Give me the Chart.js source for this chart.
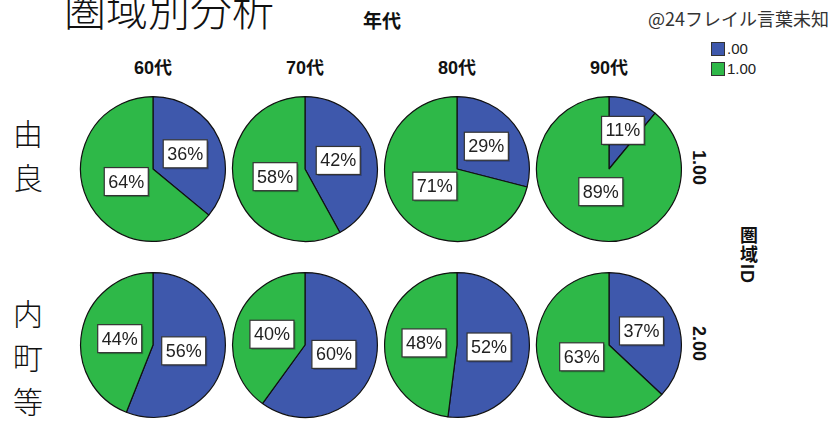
<!DOCTYPE html>
<html>
<head>
<meta charset="utf-8">
<script src="https://cdn.jsdelivr.net/npm/chart.js@4/dist/chart.umd.min.js"></script>
<style>
  body { margin:0; width:831px; height:421px; background:#fff; overflow:hidden; position:relative;
         font-family:"Liberation Sans","Noto Sans CJK JP",sans-serif; color:#111; }
  .t { position:absolute; white-space:nowrap; }
  .pie { position:absolute; width:148px; height:148px; }
  .vert { writing-mode:vertical-rl; }
</style>
</head>
<body>
<div class="t" style="left:64px;top:-13px;font:300 42px 'Noto Sans CJK JP';line-height:1;">圏域別分析</div>
<div class="t" style="left:363px;top:10px;font:bold 19px 'Noto Sans CJK JP';line-height:1;">年代</div>
<div class="t" style="right:2px;top:9px;font:18px 'Noto Sans CJK JP';line-height:1;color:#333;">@24フレイル言葉未知</div>

<div id="legend"></div>
<div id="colHeads"></div>
<div id="rowHeads"></div>
<div id="sideHeads"></div>
<div class="t vert" style="left:734px;top:226px;font:bold 18px 'Liberation Sans','Noto Sans CJK JP';letter-spacing:1px;">圏域ID</div>
<div id="pies"></div>

<script>
// categories
var years = ["60代", "70代", "80代", "90代"];
var regionIds = ["1.00", "2.00"];
var regionNames = ["由良", "内町等"];
var legendLabels = [".00", "1.00"];
var colors = ["#3E58AC", "#2EB848"];

// percentages of ".00" and "1.00" per region (row) and age group (column)
var pctZero_1 = [36, 42, 29, 11];
var pctOne_1  = [64, 58, 71, 89];
var pctZero_2 = [56, 60, 52, 37];
var pctOne_2  = [44, 40, 48, 63];

var rows = [[pctZero_1, pctOne_1], [pctZero_2, pctOne_2]];

// layout
var colCenters = [153, 305, 457, 609];
var rowCenters = [169, 345];
var pieSize = 148;

// legend
var legend = document.getElementById("legend");
legendLabels.forEach(function(lbl, i){
  var box = document.createElement("div");
  box.className = "t";
  box.style.cssText = "left:711px;top:" + (42 + i*20) + "px;width:12px;height:12px;border:1px solid #333;background:" + colors[i] + ";";
  legend.appendChild(box);
  var tx = document.createElement("div");
  tx.className = "t";
  tx.style.cssText = "left:727px;top:" + (40 + i*20) + "px;font:15px 'Liberation Sans';color:#222;line-height:17px;";
  tx.textContent = lbl;
  legend.appendChild(tx);
});

// column headers
years.forEach(function(y, j){
  var d = document.createElement("div");
  d.className = "t";
  d.style.cssText = "left:" + (colCenters[j] - 40) + "px;width:80px;text-align:center;top:57px;font:bold 18px 'Liberation Sans','Noto Sans CJK JP';line-height:22px;";
  d.textContent = y;
  document.getElementById("colHeads").appendChild(d);
});

// left row names + right row ids
regionNames.forEach(function(n, i){
  var d = document.createElement("div");
  d.className = "t vert";
  d.style.cssText = "left:12px;top:" + (rowCenters[i] - 50) + "px;font:300 30px 'Noto Sans CJK JP';letter-spacing:14px;line-height:32px;";
  if (i === 1) d.style.top = (rowCenters[i] - 46) + "px";
  d.textContent = n;
  document.getElementById("rowHeads").appendChild(d);
  var r = document.createElement("div");
  r.className = "t vert";
  r.style.cssText = "left:688px;top:" + (rowCenters[i] - 19) + "px;font:bold 18px 'Liberation Sans';line-height:22px;";
  r.textContent = regionIds[i];
  document.getElementById("sideHeads").appendChild(r);
});

// boxed percent labels inside slices (small slices pushed further out)
var boxLabels = {
  id: "boxLabels",
  afterDatasetsDraw: function(chart){
    var ctx = chart.ctx;
    var meta = chart.getDatasetMeta(0);
    var vals = chart.data.datasets[0].data;
    var total = vals.reduce(function(a, b){ return a + b; }, 0);
    ctx.save();
    ctx.font = "18px 'Liberation Sans'";
    ctx.textAlign = "center";
    ctx.textBaseline = "middle";
    meta.data.forEach(function(arc, k){
      var p = arc.getProps(["x","y","startAngle","endAngle","outerRadius"], true);
      var mid = (p.startAngle + p.endAngle) / 2;
      var rr = p.outerRadius * (0.3 + 0.3 * (1 - vals[k] / total));
      var x = p.x + Math.cos(mid) * rr;
      var y = p.y + Math.sin(mid) * rr;
      var txt = vals[k] + "%";
      var w = ctx.measureText(txt).width + 8;
      var h = 28;
      ctx.fillStyle = "rgba(0,0,0,0.25)";
      ctx.fillRect(x - w/2 + 1.5, y - h/2 + 1.5, w, h);
      ctx.fillStyle = "#fff";
      ctx.fillRect(x - w/2, y - h/2, w, h);
      ctx.strokeStyle = "#333";
      ctx.lineWidth = 1.2;
      ctx.strokeRect(x - w/2, y - h/2, w, h);
      ctx.fillStyle = "#222";
      ctx.fillText(txt, x, y + 1);
    });
    ctx.restore();
  }
};

rows.forEach(function(series, i){
  years.forEach(function(y, j){
    var cv = document.createElement("canvas");
    cv.className = "pie";
    cv.style.left = (colCenters[j] - pieSize/2) + "px";
    cv.style.top = (rowCenters[i] - pieSize/2) + "px";
    cv.width = pieSize; cv.height = pieSize;
    document.getElementById("pies").appendChild(cv);
    new Chart(cv, {
      type: "pie",
      data: {
        labels: legendLabels,
        datasets: [{
          data: [series[0][j], series[1][j]],
          backgroundColor: colors,
          borderColor: "#111",
          borderWidth: 1.2
        }]
      },
      options: {
        responsive: false,
        animation: false,
        layout: { padding: 1 },
        plugins: { legend: { display: false }, tooltip: { enabled: false } }
      },
      plugins: [boxLabels]
    });
  });
});
</script>
</body>
</html>
